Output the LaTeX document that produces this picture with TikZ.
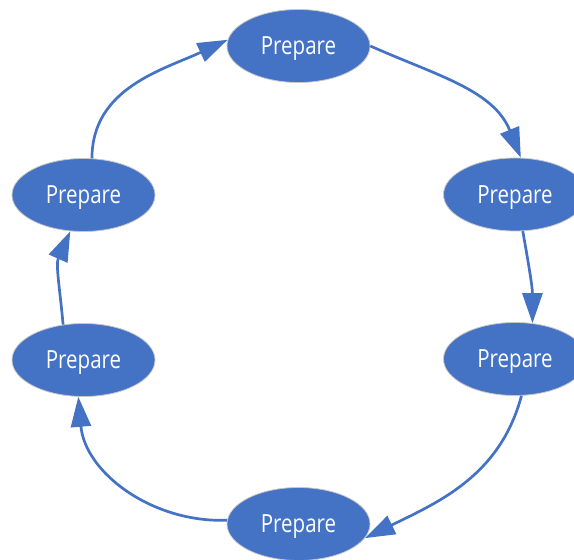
\documentclass[tikz,border=0pt]{standalone}
\usepackage{fontspec}
\newfontfamily\lab[FakeStretch=0.82]{Open Sans}
\usetikzlibrary{shapes.geometric,arrows.meta}
\definecolor{nodeblue}{HTML}{4472C4}
\definecolor{rimgray}{HTML}{C8C8C8}
\tikzset{
  stage/.style={ellipse, fill=nodeblue, draw=rimgray, line width=0.8pt,
    minimum width=143pt, minimum height=73pt, inner sep=0pt, text depth=0pt,
    text=white, font=\lab\fontsize{25}{29}\selectfont},
  conn/.style={draw=nodeblue, line width=2.7pt,
    -{Triangle[length=30pt,width=20pt]}, fill=none},
}
\begin{document}
\begin{tikzpicture}[x=1pt,y=1pt]
\useasboundingbox (0,0) rectangle (574,560);
\node[stage] (t)  at (298.5,514) {Prepare};
\node[stage] (ru) at (515,365.5) {Prepare};
\node[stage] (rl) at (515,201) {Prepare};
\node[stage] (b)  at (298.5,36) {Prepare};
\node[stage] (ll) at (83.5,200) {Prepare};
\node[stage] (lu) at (83.5,365) {Prepare};
\draw[conn] (t.0) to[out=-24,in=112] (ru.81);
\draw[conn] (ru.-78) to[out=-80,in=90] (rl.64);
\draw[conn] (rl.-80) to[out=-105,in=26] (b.-12);
\draw[conn] (b.177) to[out=182,in=-85] (ll.-98);
\draw[conn] (ll.120) to[out=95,in=-114] (lu.-110);
\draw[conn] (lu.77) to[out=90,in=-155] (t.175);
\end{tikzpicture}
\end{document}
